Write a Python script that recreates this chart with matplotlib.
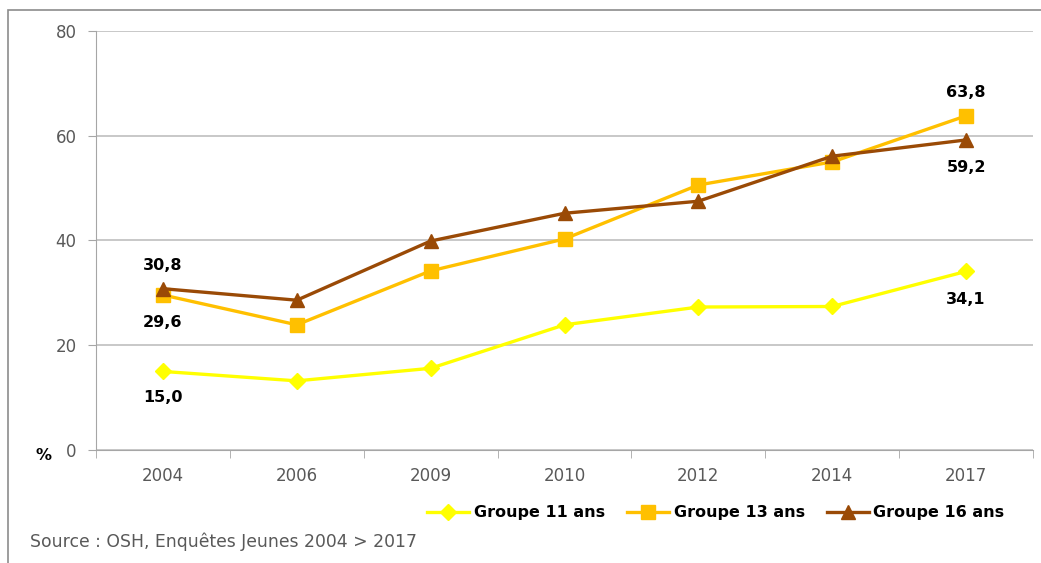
import matplotlib
matplotlib.use("Agg")
import matplotlib.pyplot as plt
from matplotlib.patches import Rectangle
from matplotlib.ticker import FixedLocator, NullFormatter

annees = ["2004", "2006", "2009", "2010", "2012", "2014", "2017"]
groupe_11 = [15.0, 13.2, 15.6, 23.9, 27.3, 27.4, 34.1]
groupe_13 = [29.6, 23.9, 34.2, 40.3, 50.6, 55.0, 63.8]
groupe_16 = [30.8, 28.6, 39.9, 45.2, 47.5, 56.1, 59.2]
noms = ["Groupe 11 ans", "Groupe 13 ans", "Groupe 16 ans"]

JAUNE = "#FFFF00"
ORANGE = "#FFC000"
BRUN = "#9A4A06"
GRIS = "#595959"

plt.rcParams["font.family"] = ["DejaVu Sans"]

W, H = 1041, 563
fig = plt.figure(figsize=(W / 100, H / 100), dpi=100)

# cadre extérieur
fig.patches.append(Rectangle((8 / W, -0.1), 1.2, (H - 10) / H + 0.1,
                             transform=fig.transFigure, fill=False,
                             edgecolor="#8C8C8C", linewidth=1.2))

ax = fig.add_axes([96 / W, (H - 450) / H, (1033 - 96) / W, (450 - 31) / H])
x = list(range(len(annees)))

ax.plot(x, groupe_11, color=JAUNE, lw=2.4, marker="D", ms=8, label=noms[0], zorder=3)
ax.plot(x, groupe_13, color=ORANGE, lw=2.4, marker="s", ms=10, label=noms[1], zorder=3)
ax.plot(x, groupe_16, color=BRUN, lw=2.4, marker="^", ms=10, label=noms[2], zorder=4)

ax.set_xlim(-0.5, len(annees) - 0.5)
ax.set_ylim(0, 80)
ax.set_yticks([0, 20, 40, 60, 80])
ax.set_xticks(x)
ax.set_xticklabels(annees)
ax.xaxis.set_minor_locator(FixedLocator([i - 0.5 for i in range(len(annees) + 1)]))
ax.xaxis.set_minor_formatter(NullFormatter())
ax.tick_params(axis="x", which="major", length=0, pad=12, labelsize=12, labelcolor=GRIS)
ax.tick_params(axis="x", which="minor", length=6, color="#A6A6A6", direction="out")
ax.tick_params(axis="y", length=6, color="#A6A6A6", pad=8, labelsize=12, labelcolor=GRIS)

ax.grid(axis="y", color="#BFBFBF", lw=1.2)
ax.set_axisbelow(True)
for s in ["top", "right"]:
    ax.spines[s].set_visible(False)
ax.spines["left"].set_color("#A6A6A6")
ax.spines["bottom"].set_color("#A6A6A6")

# étiquettes de valeurs
lbl = dict(ha="center", va="center", fontsize=11.5, fontweight="bold", color="black")
ax.annotate("30,8", (0, groupe_16[0]), xytext=(0, 17), textcoords="offset points", **lbl)
ax.annotate("29,6", (0, groupe_13[0]), xytext=(0, -20), textcoords="offset points", **lbl)
ax.annotate("15,0", (0, groupe_11[0]), xytext=(0, -19), textcoords="offset points", **lbl)
ax.annotate("63,8", (6, groupe_13[6]), xytext=(0, 17), textcoords="offset points", **lbl)
ax.annotate("59,2", (6, groupe_16[6]), xytext=(0, -20), textcoords="offset points", **lbl)
ax.annotate("34,1", (6, groupe_11[6]), xytext=(0, -20), textcoords="offset points", **lbl)

fig.text(44 / W, 1 - 455 / H, "%", ha="center", va="center", fontsize=11.5,
         fontweight="bold", color="black")

leg = fig.legend(loc="center", bbox_to_anchor=(716 / W, 1 - 513 / H), ncol=3,
                 frameon=False, handlelength=2.6, columnspacing=1.4,
                 handletextpad=0.3, prop={"weight": "bold", "size": 11.5})

fig.text(30 / W, 1 - 542 / H, "Source : OSH, Enquêtes Jeunes 2004 > 2017",
         ha="left", va="center", fontsize=12.4, color=GRIS)

fig.savefig("out.png", dpi=100)
